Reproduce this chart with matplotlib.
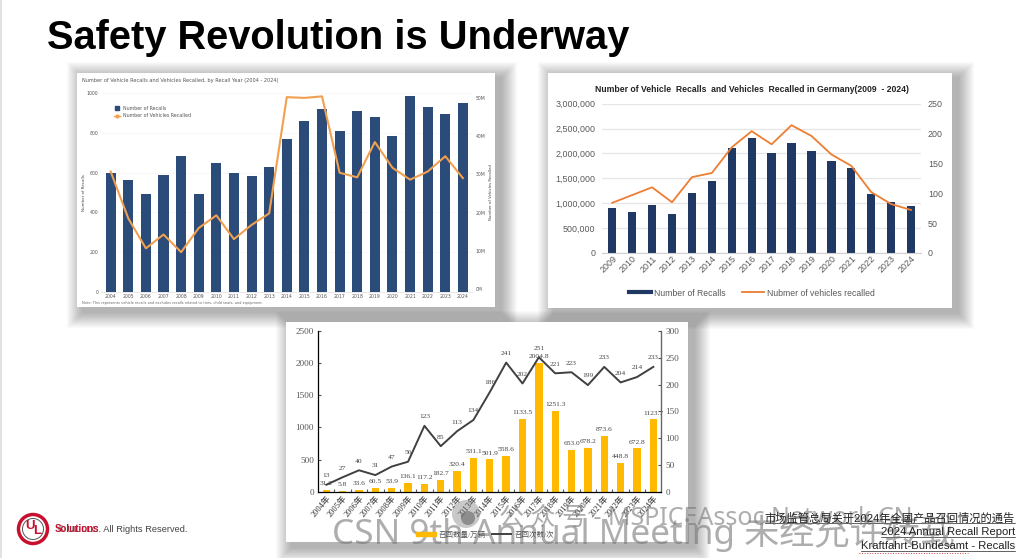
import matplotlib
matplotlib.use("Agg")
import matplotlib.pyplot as plt
from matplotlib.lines import Line2D
from matplotlib.patches import Circle, Patch, Rectangle

W, H = 1024, 558
CJK_SANS = ["Liberation Sans", "Noto Sans CJK SC"]
CJK_SERIF = ["Liberation Serif", "Noto Sans CJK SC"]

# US recalls 2004-2024
us_years = [str(y) for y in range(2004, 2025)]
us_recalls = [600, 563, 491, 588, 682, 491, 647, 597, 582, 627, 771, 862, 919, 812, 913, 881, 783, 988, 933, 894, 950]
us_vehicles = [30.7, 18.5, 10.7, 14.3, 9.7, 16.0, 19.3, 13.1, 16.8, 19.8, 50.1, 49.9, 50.3, 30.4, 29.2, 38.4, 31.7, 28.6, 30.7, 34.7, 29.0]
us_left_ticks = [0, 200, 400, 600, 800, 1000]
us_right_ticks = [0, 10, 20, 30, 40, 50]

# Germany recalls 2009-2024
de_years = [str(y) for y in range(2009, 2025)]
de_vehicles = [897000, 823000, 957000, 790000, 1205000, 1453000, 2109000, 2310000, 2016000, 2210000, 2056000, 1855000, 1701000, 1179000, 1018000, 937000]
de_recalls = [84, 97, 110, 85, 127, 134, 177, 204, 182, 214, 196, 165, 146, 102, 82, 72]

# China recalls 2004-2024
cn_years = [f"{y}年" for y in range(2004, 2025)]
cn_vehicles = [31.2, 5.8, 33.6, 60.5, 53.9, 136.1, 117.2, 182.7, 320.4, 531.1, 501.9, 558.6, 1133.5, 2004.8, 1251.3, 653.0, 678.2, 873.6, 448.8, 672.8, 1123.7]
cn_recalls = [13, 27, 40, 31, 47, 56, 123, 85, 113, 134, 186, 241, 202, 251, 221, 223, 199, 233, 204, 214, 233]

footer_lines = ["市场监管总局关于2024年全国产品召回情况的通告", "2024 Annual Recall Report", "Kraftfahrt-Bundesamt - Recalls"]


def ax_px(x0, y0, x1, y1, **kw):
    # axes from pixel box, y measured from the top
    return fig.add_axes([x0 / W, 1 - y1 / H, (x1 - x0) / W, (y1 - y0) / H], **kw)


def panel(x0, y0, x1, y1):
    # soft shadow from stacked rectangles, then the white card
    for g in range(16, 0, -1):
        bg.add_patch(Rectangle((x0 + 6 - g, y0 + 5 - g), x1 - x0 + 2 * g, y1 - y0 + 2 * g,
                               fc="black", ec="none", alpha=0.018))
    bg.add_patch(Rectangle((x0, y0), x1 - x0, y1 - y0, fc="white", ec="none"))


fig = plt.figure(figsize=(W / 100, H / 100), dpi=100, facecolor="white")
bg = ax_px(0, 0, W, H)
bg.set_xlim(0, W)
bg.set_ylim(H, 0)
bg.axis("off")
bg.add_patch(Rectangle((0, 0), 2, H, fc="#e2e2e2", ec="none"))

panel(77, 73, 495, 307)
panel(548, 73, 952, 308)
panel(286, 322, 688, 542)

bg.text(47, 38, "Safety Revolution is Underway", family="Liberation Sans", weight="bold",
        fontsize=28.7, va="center", ha="left", color="black")

# chart 1
ax1 = ax_px(101, 93.3, 471.7, 291.7)
ax1.patch.set_alpha(0)
x1 = list(range(len(us_years)))
ax1.bar(x1, us_recalls, width=0.57, color="#2b4b78")
ax1.set_xlim(-0.55, 20.5)
ax1.set_ylim(0, 1000)
ax1.set_xticks(x1, us_years)
ax1.set_yticks(us_left_ticks)
ax1.grid(axis="y", color="#e6e6e6", lw=0.5, ls=":")
ax1.set_axisbelow(True)
ax1.tick_params(length=0, labelsize=3.3, labelcolor="#555555", pad=2)
ax1.set_ylabel("Number of Recalls", fontsize=2.9, color="#444444", labelpad=0.5)
for s in ax1.spines.values():
    s.set_visible(False)
ax1.spines["bottom"].set_visible(True)
ax1.spines["bottom"].set_color("#dddddd")
ax1.spines["bottom"].set_linewidth(0.5)
ax1r = ax1.twinx()
ax1r.plot(x1, us_vehicles, color="#f0a050", lw=1.5)
ax1r.set_ylim(-0.6, 51.1)
ax1r.set_yticks(us_right_ticks, [f"{v}M" for v in us_right_ticks])
ax1r.tick_params(length=0, labelsize=3.3, labelcolor="#555555", pad=3)
ax1r.set_ylabel("Number of Vehicles Recalled", fontsize=2.8, color="#444444", labelpad=2)
for s in ax1r.spines.values():
    s.set_visible(False)
ax1.legend(handles=[Line2D([], [], marker="s", ls="none", color="#2b4b78", ms=2.2, label="Number of Recalls"),
                    Line2D([], [], marker="o", color="#f0a050", lw=1, ms=2, label="Number of Vehicles Recalled")],
           loc="upper left", bbox_to_anchor=(0.03, 0.95), frameon=False, fontsize=3.4,
           labelcolor="#555555", handlelength=1.1, labelspacing=0.55, borderpad=0)
bg.text(81.5, 80.7, "Number of Vehicle Recalls and Vehicles Recalled, by Recall Year (2004 - 2024)",
        fontsize=3.6, color="#555555", va="center")
bg.text(81.5, 303, "Note: This represents vehicle recalls and excludes recalls related to tires, child seats, and equipment.",
        fontsize=2.55, color="#666666", va="center")

# chart 2
plt.rcParams["font.family"] = ["Liberation Sans"]
ax2 = ax_px(602.3, 103.7, 921, 253)
ax2.patch.set_alpha(0)
x2 = list(range(len(de_years)))
ax2.bar(x2, de_vehicles, width=0.42, color="#1f3864")
ax2.set_xlim(-0.5, 15.5)
ax2.set_ylim(0, 3000000)
ax2.set_xticks(x2)
ax2.set_xticklabels(de_years, rotation=45, ha="right", rotation_mode="anchor")
ax2.set_yticks(range(0, 3000001, 500000), [f"{v:,}" for v in range(0, 3000001, 500000)])
ax2.grid(axis="y", color="#e6e6e6", lw=0.9)
ax2.set_axisbelow(True)
ax2.tick_params(length=0, labelsize=6.4, labelcolor="#595959", pad=5)
ax2.tick_params(axis="x", pad=1)
for s in ax2.spines.values():
    s.set_visible(False)
ax2.spines["bottom"].set_visible(True)
ax2.spines["bottom"].set_color("#d0d0d0")
ax2r = ax2.twinx()
ax2r.plot(x2, de_recalls, color="#ed7d31", lw=1.3)
ax2r.set_ylim(0, 250)
ax2r.set_yticks(range(0, 251, 50))
ax2r.tick_params(length=0, labelsize=6.4, labelcolor="#595959", pad=5)
for s in ax2r.spines.values():
    s.set_visible(False)
fig.legend(handles=[Line2D([], [], color="#1f3864", lw=3, label="Number of Recalls"),
                    Line2D([], [], color="#ed7d31", lw=1.3, label="Nubmer of vehicles recalled")],
           loc="center", bbox_to_anchor=(751.7 / W, 1 - 293 / H), ncol=2, frameon=False, fontsize=6.2,
           labelcolor="#595959", handlelength=2.6, handletextpad=0.3, columnspacing=1.9)
bg.text(752, 89, "Number of Vehicle  Recalls  and Vehicles  Recalled in Germany(2009  - 2024)",
        family="Liberation Sans", weight="bold", fontsize=6.2, color="#222222", ha="center", va="center")

# chart 3
ax3 = ax_px(318.3, 331, 661, 491.7)
ax3.patch.set_alpha(0)
x3 = list(range(len(cn_years)))
ax3.bar(x3, cn_vehicles, width=0.45, color="#ffb900")
ax3.set_xlim(-0.49, 20.47)
ax3.set_ylim(0, 2500)
ax3.set_xticks([i - 0.5 for i in x3[1:]], minor=False)
ax3.set_xticklabels([])
ax3.set_xticks(x3, cn_years, minor=True, rotation=50, ha="right", rotation_mode="anchor", family=CJK_SERIF)
ax3.set_yticks(range(0, 2501, 500))
ax3.tick_params(axis="x", which="major", direction="in", length=2, color="#555555")
ax3.tick_params(axis="x", which="minor", length=0, labelsize=6, labelcolor="#333333", pad=2)
ax3.tick_params(axis="y", direction="in", length=2.5, color="#555555", labelsize=6.6, labelcolor="#555555", labelfontfamily="Liberation Serif", pad=3)
ax3.spines["top"].set_visible(False)
for name in ["left", "bottom", "right"]:
    ax3.spines[name].set_color("#666666")
    ax3.spines[name].set_linewidth(0.9)
ax3r = ax3.twinx()
ax3r.plot(x3, cn_recalls, color="#404040", lw=1.4)
ax3r.set_ylim(0, 300)
ax3r.set_yticks(range(0, 301, 50))
ax3r.tick_params(axis="y", direction="in", length=2.5, color="#555555", labelsize=6.6, labelcolor="#555555", labelfontfamily="Liberation Serif", pad=3)
ax3r.spines["top"].set_visible(False)
ax3r.spines["right"].set_color("#666666")
for i, v in enumerate(cn_vehicles):
    ax3.annotate(f"{v:.1f}", (i, v), xytext=(0, 3.5), textcoords="offset points", ha="center",
                 fontsize=5.4, family="Liberation Serif", color="#444444")
for i, v in enumerate(cn_recalls):
    ax3r.annotate(str(v), (i, v), xytext=(0, 5.5), textcoords="offset points", ha="center",
                  fontsize=5.4, family="Liberation Serif", color="#444444")
fig.legend(handles=[Patch(color="#ffb900", label="召回数量/万辆"),
                    Line2D([], [], color="#404040", lw=1.4, label="召回次数/次")],
           loc="center", bbox_to_anchor=(485 / W, 1 - 534 / H), ncol=2, frameon=False,
           prop={"family": CJK_SERIF, "size": 5.4}, labelcolor="#555555", handlelength=2.6,
           handletextpad=0.4, columnspacing=0.8, handleheight=0.5)

# footer, watermark and logo on top of everything
top = ax_px(0, 0, W, H)
top.set_xlim(0, W)
top.set_ylim(H, 0)
top.axis("off")
top.add_patch(Circle((466, 514), 14, fc="#777777", ec="none", alpha=0.4))
top.add_patch(Circle((468, 518), 7, fc="#666666", ec="none", alpha=0.6))
top.text(499, 518, "公 众 号 - MSPICEAssoc Network CN", family=["Noto Sans", "Noto Sans CJK SC"],
         fontsize=18, color="#777777", alpha=0.6, ha="left", va="center", clip_on=True)
top.text(332, 533, "CSN 9th Annual Meeting 未经允许转载", family=["Noto Sans", "Noto Sans CJK SC"],
         fontsize=25.3, color="#777777", alpha=0.6, ha="left", va="center", clip_on=True)

for line, y in zip(footer_lines, [518, 532, 545.7]):
    t = top.text(1015, y, line, family=CJK_SANS, fontsize=8.15, color="#222222", ha="right", va="center")
    box = t.get_window_extent(fig.canvas.get_renderer())
    top.plot([box.x0, box.x1], [y + 5, y + 5], color="#222222", lw=0.5)
top.plot([859, 968], [552.7, 552.7], color="#d04040", lw=0.7, ls=":")

top.add_patch(Circle((33, 529), 14.5, fc="white", ec="#c8102e", lw=2.5))
top.add_patch(Circle((33, 529), 10.5, fc="none", ec="#555555", lw=0.7))
top.text(29.5, 526, "U", color="#c8102e", weight="bold", fontsize=9.5, family="Liberation Sans", ha="center", va="center")
top.text(37, 531, "L", color="#c8102e", weight="bold", fontsize=9.5, family="Liberation Sans", ha="center", va="center")
top.text(188, 529, "© UL LLC. All Rights Reserved.", family="Liberation Sans", fontsize=6.7, color="#444444", ha="right", va="center")
top.text(55, 529, "Solutions", family="Liberation Sans", weight="bold", fontsize=7, color="#c8102e", ha="left", va="center")

fig.savefig("out.png", dpi=100)
